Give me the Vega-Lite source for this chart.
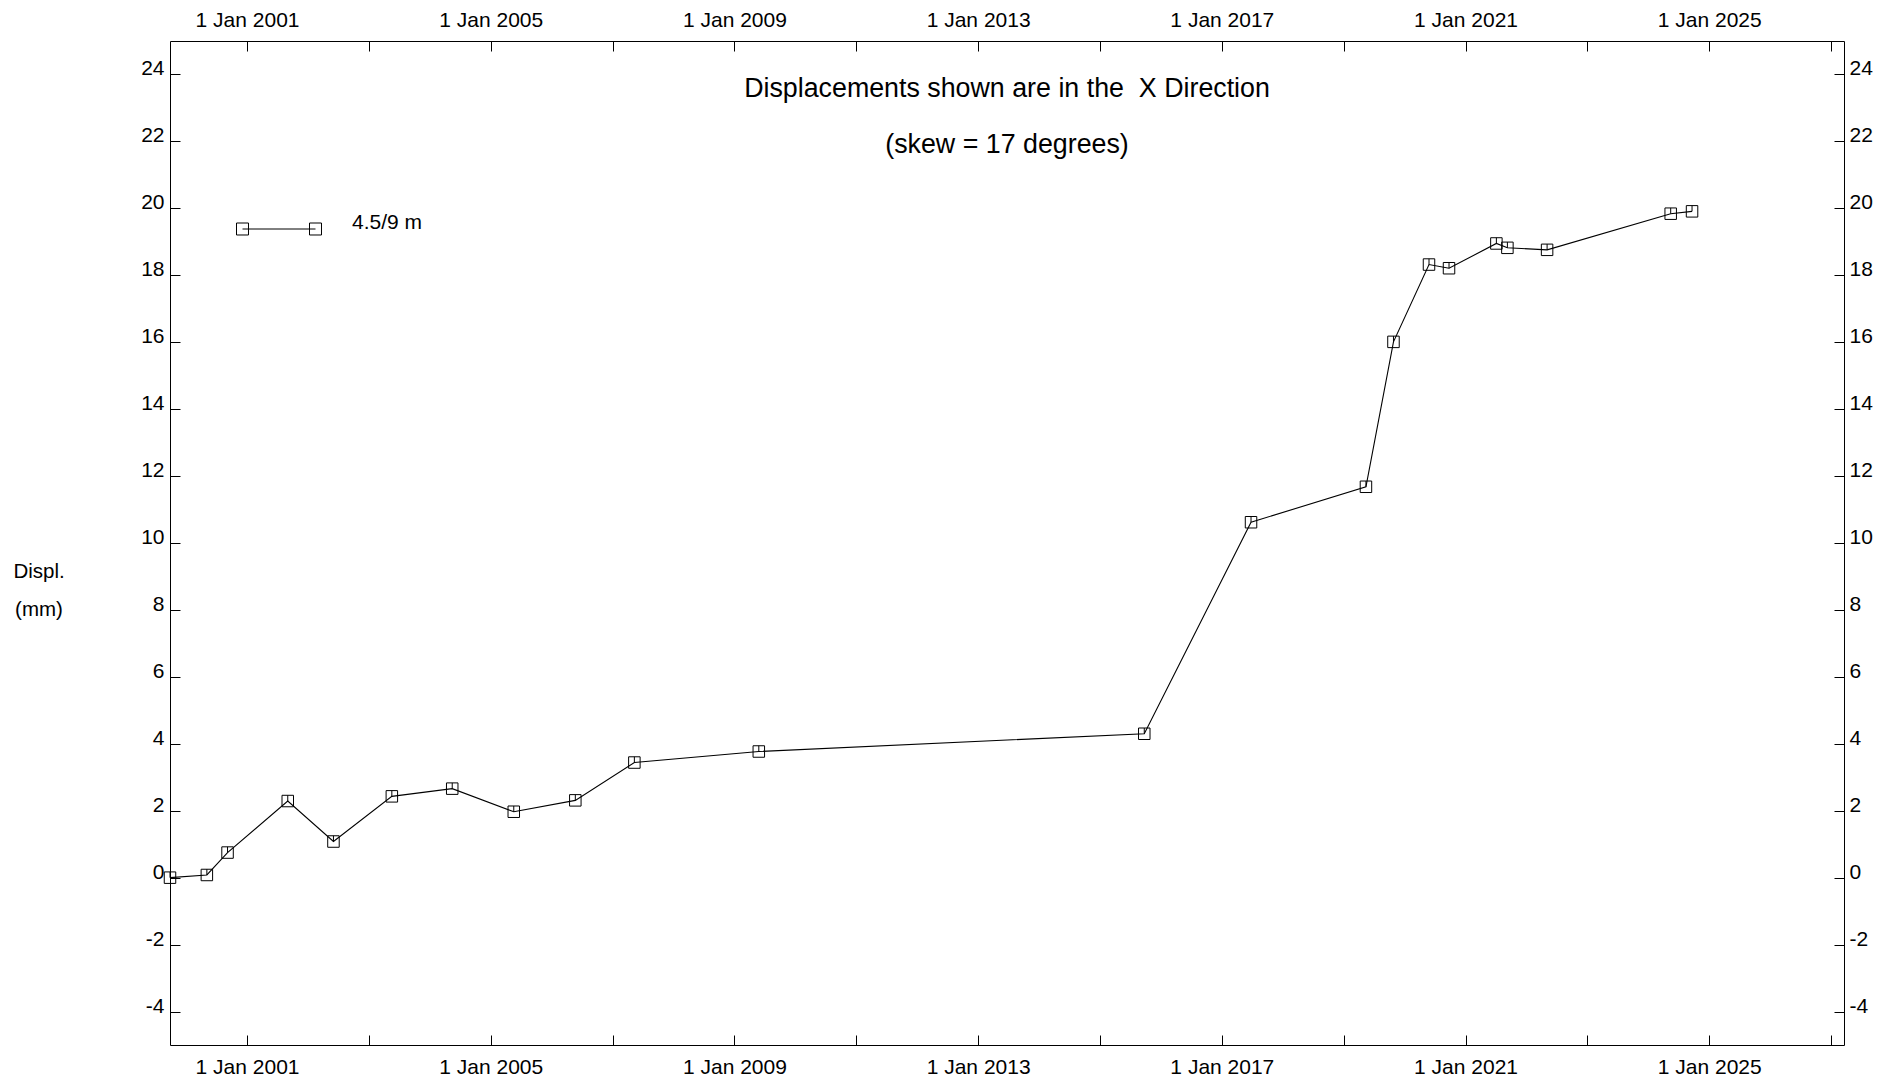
{
  "$schema": "https://vega.github.io/schema/vega-lite/v6.json",
  "width": 1674,
  "height": 1004,
  "autosize": {"type": "none"},
  "padding": {"left": 170, "top": 41, "right": 38, "bottom": 34},
  "background": "white",
  "config": {"view": {"stroke": null}, "font": "Liberation Sans"},
  "title": {
    "text": ["Displacements shown are in the\u00a0 X Direction", "(skew = 17 degrees)"],
    "anchor": "middle",
    "frame": "group",
    "orient": "top",
    "baseline": "alphabetic",
    "offset": -171,
    "fontSize": 26.8,
    "font": "Liberation Sans",
    "fontWeight": "normal",
    "color": "black",
    "lineHeight": 56
  },
  "data": {
    "values": [
      {"date": "1999-09-27", "value": 0.0, "series": "4.5/9 m"},
      {"date": "2000-05-05", "value": 0.08, "series": "4.5/9 m"},
      {"date": "2000-09-06", "value": 0.75, "series": "4.5/9 m"},
      {"date": "2001-09-02", "value": 2.29, "series": "4.5/9 m"},
      {"date": "2002-06-03", "value": 1.08, "series": "4.5/9 m"},
      {"date": "2003-05-19", "value": 2.43, "series": "4.5/9 m"},
      {"date": "2004-05-15", "value": 2.66, "series": "4.5/9 m"},
      {"date": "2005-05-19", "value": 1.97, "series": "4.5/9 m"},
      {"date": "2006-05-23", "value": 2.31, "series": "4.5/9 m"},
      {"date": "2007-05-12", "value": 3.44, "series": "4.5/9 m"},
      {"date": "2009-05-27", "value": 3.77, "series": "4.5/9 m"},
      {"date": "2015-09-24", "value": 4.30, "series": "4.5/9 m"},
      {"date": "2017-06-25", "value": 10.62, "series": "4.5/9 m"},
      {"date": "2019-05-15", "value": 11.68, "series": "4.5/9 m"},
      {"date": "2019-10-27", "value": 16.01, "series": "4.5/9 m"},
      {"date": "2020-05-27", "value": 18.32, "series": "4.5/9 m"},
      {"date": "2020-09-24", "value": 18.21, "series": "4.5/9 m"},
      {"date": "2021-07-05", "value": 18.95, "series": "4.5/9 m"},
      {"date": "2021-09-09", "value": 18.82, "series": "4.5/9 m"},
      {"date": "2022-05-05", "value": 18.76, "series": "4.5/9 m"},
      {"date": "2024-05-15", "value": 19.84, "series": "4.5/9 m"},
      {"date": "2024-09-20", "value": 19.91, "series": "4.5/9 m"}
    ]
  },
  "layer": [
    {
      "mark": {"type": "line", "strokeWidth": 1.1},
      "encoding": {
        "x": {
          "field": "date", "type": "temporal",
          "scale": {"type": "utc", "domain": [{"year": 1999, "month": 9, "date": 27, "utc": true}, {"year": 2027, "month": 3, "date": 20, "utc": true}]},
          "axis": {
            "orient": "bottom",
            "values": [
              {"year": 2001, "month": 1, "date": 1, "utc": true}, {"year": 2003, "month": 1, "date": 1, "utc": true},
              {"year": 2005, "month": 1, "date": 1, "utc": true}, {"year": 2007, "month": 1, "date": 1, "utc": true},
              {"year": 2009, "month": 1, "date": 1, "utc": true}, {"year": 2011, "month": 1, "date": 1, "utc": true},
              {"year": 2013, "month": 1, "date": 1, "utc": true}, {"year": 2015, "month": 1, "date": 1, "utc": true},
              {"year": 2017, "month": 1, "date": 1, "utc": true}, {"year": 2019, "month": 1, "date": 1, "utc": true},
              {"year": 2021, "month": 1, "date": 1, "utc": true}, {"year": 2023, "month": 1, "date": 1, "utc": true},
              {"year": 2025, "month": 1, "date": 1, "utc": true}, {"year": 2027, "month": 1, "date": 1, "utc": true}
            ],
            "labelExpr": "utcyear(datum.value) % 4 == 1 ? '1 Jan ' + utcyear(datum.value) : ''",
            "tickSize": -10, "labelPadding": 21, "labelBaseline": "top",
            "labelFontSize": 21, "labelFont": "Liberation Sans", "labelColor": "black",
            "labelOverlap": false, "labelFlush": false, "labelBound": false,
            "grid": false, "domainColor": "black", "tickColor": "black", "domainWidth": 1, "tickWidth": 1,
            "title": null
          }
        },
        "y": {
          "field": "value", "type": "quantitative",
          "scale": {"domain": [-5, 25], "nice": false, "zero": false},
          "axis": {
            "orient": "left",
            "values": [-4, -2, 0, 2, 4, 6, 8, 10, 12, 14, 16, 18, 20, 22, 24],
            "labelExpr": "'' + datum.value",
            "tickSize": -10, "labelPadding": 16, "labelOffset": -5.5,
            "labelFontSize": 21, "labelFont": "Liberation Sans", "labelColor": "black",
            "labelOverlap": false, "labelFlush": false, "labelBound": false,
            "grid": false, "domainColor": "black", "tickColor": "black", "domainWidth": 1, "tickWidth": 1,
            "title": ["Displ.", "(mm)"],
            "titleAngle": 0, "titleAlign": "center", "titleBaseline": "alphabetic",
            "titleX": -131.5, "titleY": 536.3, "titleFontSize": 20.5, "titleFont": "Liberation Sans",
            "titleFontWeight": "normal", "titleColor": "black", "titleLineHeight": 38.7
          }
        },
        "color": {
          "field": "series", "type": "nominal",
          "scale": {"range": ["black"]},
          "legend": {
            "orient": "none", "legendX": 72, "legendY": 151, "title": null,
            "symbolType": "M-1,0L1,0M-1.164,-0.164L-0.836,-0.164L-0.836,0.164L-1.164,0.164ZM0.836,-0.164L1.164,-0.164L1.164,0.164L0.836,0.164Z",
            "symbolSize": 5329, "symbolStrokeColor": "black", "symbolFillColor": "transparent", "symbolStrokeWidth": 1,
            "labelFont": "Liberation Sans", "labelFontSize": 21, "labelColor": "black",
            "labelOffset": 36, "labelBaseline": "alphabetic", "padding": 0
          }
        }
      }
    },
    {
      "mark": {"type": "point", "shape": "M-1,-1L1,-1L1,1L-1,1ZM0,-1L0,0", "size": 132, "filled": false, "strokeWidth": 1, "color": "black", "opacity": 1},
      "encoding": {
        "x": {
          "field": "date", "type": "temporal",
          "axis": {
            "orient": "top",
            "values": [
              {"year": 2001, "month": 1, "date": 1, "utc": true}, {"year": 2003, "month": 1, "date": 1, "utc": true},
              {"year": 2005, "month": 1, "date": 1, "utc": true}, {"year": 2007, "month": 1, "date": 1, "utc": true},
              {"year": 2009, "month": 1, "date": 1, "utc": true}, {"year": 2011, "month": 1, "date": 1, "utc": true},
              {"year": 2013, "month": 1, "date": 1, "utc": true}, {"year": 2015, "month": 1, "date": 1, "utc": true},
              {"year": 2017, "month": 1, "date": 1, "utc": true}, {"year": 2019, "month": 1, "date": 1, "utc": true},
              {"year": 2021, "month": 1, "date": 1, "utc": true}, {"year": 2023, "month": 1, "date": 1, "utc": true},
              {"year": 2025, "month": 1, "date": 1, "utc": true}, {"year": 2027, "month": 1, "date": 1, "utc": true}
            ],
            "labelExpr": "utcyear(datum.value) % 4 == 1 ? '1 Jan ' + utcyear(datum.value) : ''",
            "tickSize": -10, "labelPadding": 21, "labelBaseline": "bottom",
            "labelFontSize": 21, "labelFont": "Liberation Sans", "labelColor": "black",
            "labelOverlap": false, "labelFlush": false, "labelBound": false,
            "grid": false, "domainColor": "black", "tickColor": "black", "domainWidth": 1, "tickWidth": 1,
            "title": null
          }
        },
        "y": {
          "field": "value", "type": "quantitative",
          "axis": {
            "orient": "right",
            "values": [-4, -2, 0, 2, 4, 6, 8, 10, 12, 14, 16, 18, 20, 22, 24],
            "labelExpr": "'' + datum.value",
            "tickSize": -10, "labelPadding": 15, "labelOffset": -5.5,
            "labelFontSize": 21, "labelFont": "Liberation Sans", "labelColor": "black",
            "labelOverlap": false, "labelFlush": false, "labelBound": false,
            "grid": false, "domainColor": "black", "tickColor": "black", "domainWidth": 1, "tickWidth": 1,
            "title": null
          }
        }
      }
    }
  ],
  "resolve": {"scale": {"x": "shared", "y": "shared"}, "axis": {"x": "independent", "y": "independent"}}
}
